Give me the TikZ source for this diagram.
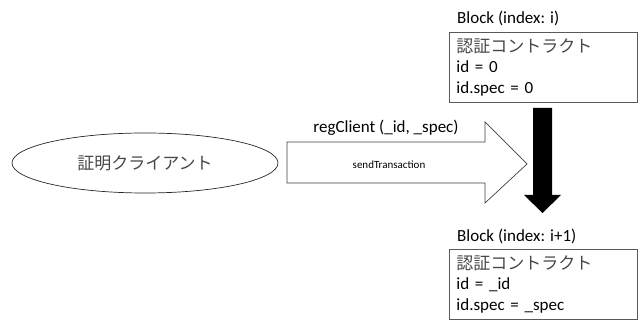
\documentclass[tikz,border=0pt]{standalone}
\usepackage{fontspec}
\usetikzlibrary{shapes.geometric}
\setmainfont{Carlito}
\newfontfamily\jpfont{Noto Sans CJK JP}
\newcommand{\jptext}[1]{{\jpfont\color{black!72}#1}}
\begin{document}
\begin{tikzpicture}[x=1pt,y=-1pt,
  lbl/.style={font=\fontsize{17}{20}\selectfont, inner sep=0pt},
  jp/.style={font=\jpfont\fontsize{17}{20}\selectfont, text=black!72, inner sep=0pt},
  blockbox/.style={draw=black!65, line width=0.9pt, anchor=north west,
    minimum width=188pt, minimum height=70pt, text width=174pt,
    inner xsep=7pt, inner ysep=4pt,
    align=left, font=\fontsize{17}{20.5}\selectfont},
  bigarrow/.style={draw=black!75, line width=0.7pt, fill=white},
]
\useasboundingbox (0,0) rectangle (641,320);

% client
\node[draw=black!85, line width=0.7pt, ellipse, minimum width=266pt, minimum height=60pt, inner sep=0pt] (client) at (145,163) {};
\node[jp] (clientlbl) at (client.center) {証明クライアント};

% blocks
\node[lbl, anchor=west] (t1) at (457,18) {Block (index: i)};
\node[blockbox] (b1) at (449,32) {\jptext{認証コントラクト}\\ id = 0\\ id.spec = 0};

\node[lbl, anchor=west] (t2) at (457,236) {Block (index: i+1)};
\node[blockbox] (b2) at (449,249) {\jptext{認証コントラクト}\\ id = \_id\\ id.spec = \_spec};

% transaction arrow
\draw[bigarrow] (287,142) -- (485,142) -- (485,122) -- (527,164) -- (485,203) -- (485,183) -- (287,183) -- cycle;
\node[lbl] (reg) at (386,128) {regClient (\_id, \_spec)};
\node[font=\fontsize{11}{13}\selectfont, inner sep=0pt] (send) at (389,165) {sendTransaction};

% block transition arrow
\fill[black] (533,108) -- (552,108) -- (552,195) -- (561,195) -- (542.5,213) -- (524,195) -- (533,195) -- cycle;
\end{tikzpicture}
\end{document}
